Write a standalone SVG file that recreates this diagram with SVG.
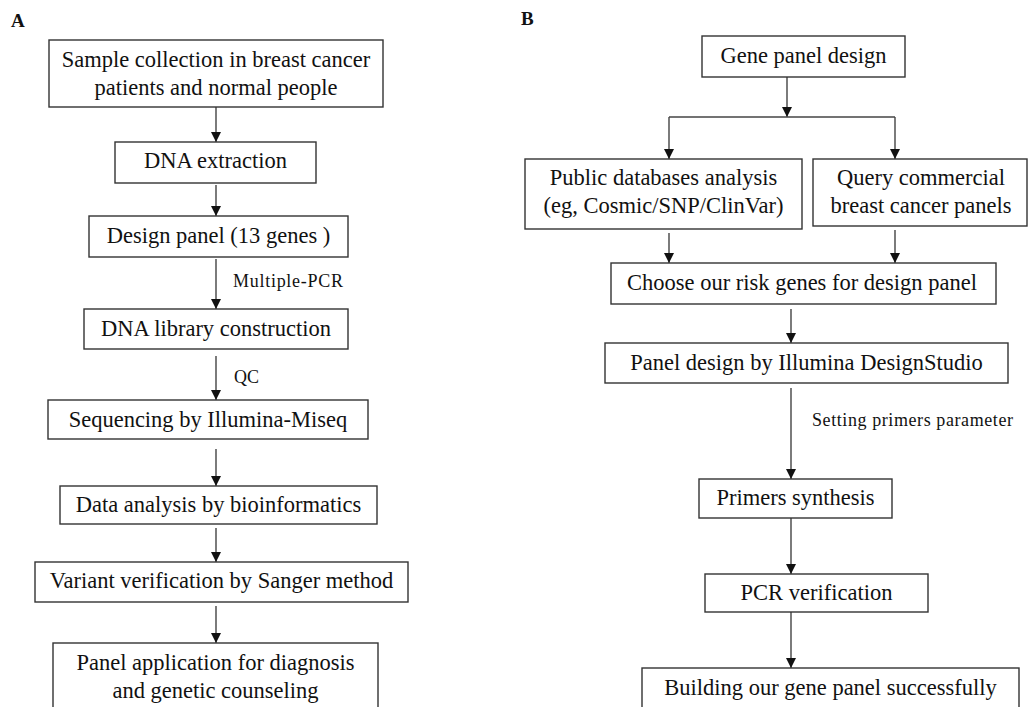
<svg xmlns="http://www.w3.org/2000/svg" width="1030" height="707" viewBox="0 0 1030 707">
<defs>
<marker id="ah" markerUnits="userSpaceOnUse" markerWidth="10" markerHeight="10" refX="9" refY="4.5" orient="auto" viewBox="0 0 9 9">
<path d="M0,0 L9,4.5 L0,9 Z" fill="#111"/>
</marker>
<style>
.box{fill:#fff;stroke:#333;stroke-width:1.4}
.t{font-family:"Liberation Serif","Times New Roman",serif;font-size:22.5px;fill:#111;text-anchor:middle}
.lbl{font-family:"Liberation Serif","Times New Roman",serif;font-size:18px;fill:#111}
.pl{font-family:"Liberation Serif","Times New Roman",serif;font-size:19px;font-weight:bold;fill:#111}
.c{stroke:#444;stroke-width:1.4;fill:none}
.ca{stroke:#444;stroke-width:1.4;fill:none;marker-end:url(#ah)}
</style>
</defs>
<rect width="1030" height="707" fill="#fff"/>
<text class="pl" x="11" y="27">A</text>
<text class="pl" x="521" y="25">B</text>
<g id="connectors">
<line class="ca" x1="216" y1="107" x2="216" y2="142"/>
<line class="ca" x1="216" y1="185" x2="216" y2="216"/>
<line class="ca" x1="216" y1="259" x2="216" y2="309"/>
<line class="ca" x1="216" y1="356" x2="216" y2="400"/>
<line class="ca" x1="216" y1="449" x2="216" y2="486"/>
<line class="ca" x1="216" y1="528" x2="216" y2="562"/>
<line class="ca" x1="216" y1="606" x2="216" y2="643"/>
<line class="ca" x1="787" y1="77" x2="787" y2="117"/>
<line class="c" x1="669" y1="117" x2="895" y2="117"/>
<line class="ca" x1="669" y1="117" x2="669" y2="159"/>
<line class="ca" x1="895" y1="117" x2="895" y2="159"/>
<line class="ca" x1="669" y1="233" x2="669" y2="263"/>
<line class="ca" x1="895" y1="230" x2="895" y2="263"/>
<line class="ca" x1="791" y1="309" x2="791" y2="343"/>
<line class="ca" x1="791" y1="388" x2="791" y2="479"/>
<line class="ca" x1="791" y1="518" x2="791" y2="574"/>
<line class="ca" x1="791" y1="612" x2="791" y2="668"/>
<text class="lbl" x="233" y="287" textLength="110" lengthAdjust="spacing">Multiple-PCR</text>
<text class="lbl" x="234" y="383">QC</text>
<text class="lbl" x="812" y="426" textLength="201" lengthAdjust="spacing">Setting primers parameter</text>
</g>
<g id="a1"><rect class="box" x="49" y="40" width="334" height="67"/><text class="t" x="216" y="67">Sample collection in breast cancer</text><text class="t" x="216" y="95">patients and normal people</text></g>
<g id="a2"><rect class="box" x="115" y="142" width="201" height="41"/><text class="t" x="215.5" y="168">DNA extraction</text></g>
<g id="a3"><rect class="box" x="89" y="216" width="259" height="41"/><text class="t" x="218.5" y="243">Design panel (13 genes )</text></g>
<g id="a4"><rect class="box" x="84" y="309" width="264" height="40"/><text class="t" x="216" y="336">DNA library construction</text></g>
<g id="a5"><rect class="box" x="48" y="400" width="320" height="39"/><text class="t" x="208" y="427">Sequencing by Illumina-Miseq</text></g>
<g id="a6"><rect class="box" x="60" y="486" width="317" height="38"/><text class="t" x="218.5" y="512">Data analysis by bioinformatics</text></g>
<g id="a7"><rect class="box" x="35" y="562" width="373" height="40"/><text class="t" x="221.5" y="588">Variant verification by Sanger method</text></g>
<g id="a8"><rect class="box" x="53" y="643" width="325" height="80"/><text class="t" x="215.5" y="670">Panel application for diagnosis</text><text class="t" x="215.5" y="698">and genetic counseling</text></g>
<g id="b1"><rect class="box" x="702" y="36" width="203" height="41"/><text class="t" x="803.5" y="63">Gene panel design</text></g>
<g id="b2"><rect class="box" x="525" y="159" width="277" height="70"/><text class="t" x="663.5" y="185">Public databases analysis</text><text class="t" x="663.5" y="213">(eg, Cosmic/SNP/ClinVar)</text></g>
<g id="b3"><rect class="box" x="813" y="159" width="214" height="67"/><text class="t" x="921" y="185">Query commercial</text><text class="t" x="921" y="213">breast cancer panels</text></g>
<g id="b4"><rect class="box" x="611" y="263" width="385" height="41"/><text class="t" x="802" y="290">Choose our risk genes for design panel</text></g>
<g id="b5"><rect class="box" x="605" y="343" width="403" height="40"/><text class="t" x="806.5" y="370">Panel design by Illumina DesignStudio</text></g>
<g id="b6"><rect class="box" x="699" y="479" width="193" height="39"/><text class="t" x="795.5" y="505">Primers synthesis</text></g>
<g id="b7"><rect class="box" x="705" y="574" width="223" height="38"/><text class="t" x="816.5" y="600">PCR verification</text></g>
<g id="b8"><rect class="box" x="642" y="668" width="377" height="60"/><text class="t" x="830.5" y="695">Building our gene panel successfully</text></g>
</svg>
